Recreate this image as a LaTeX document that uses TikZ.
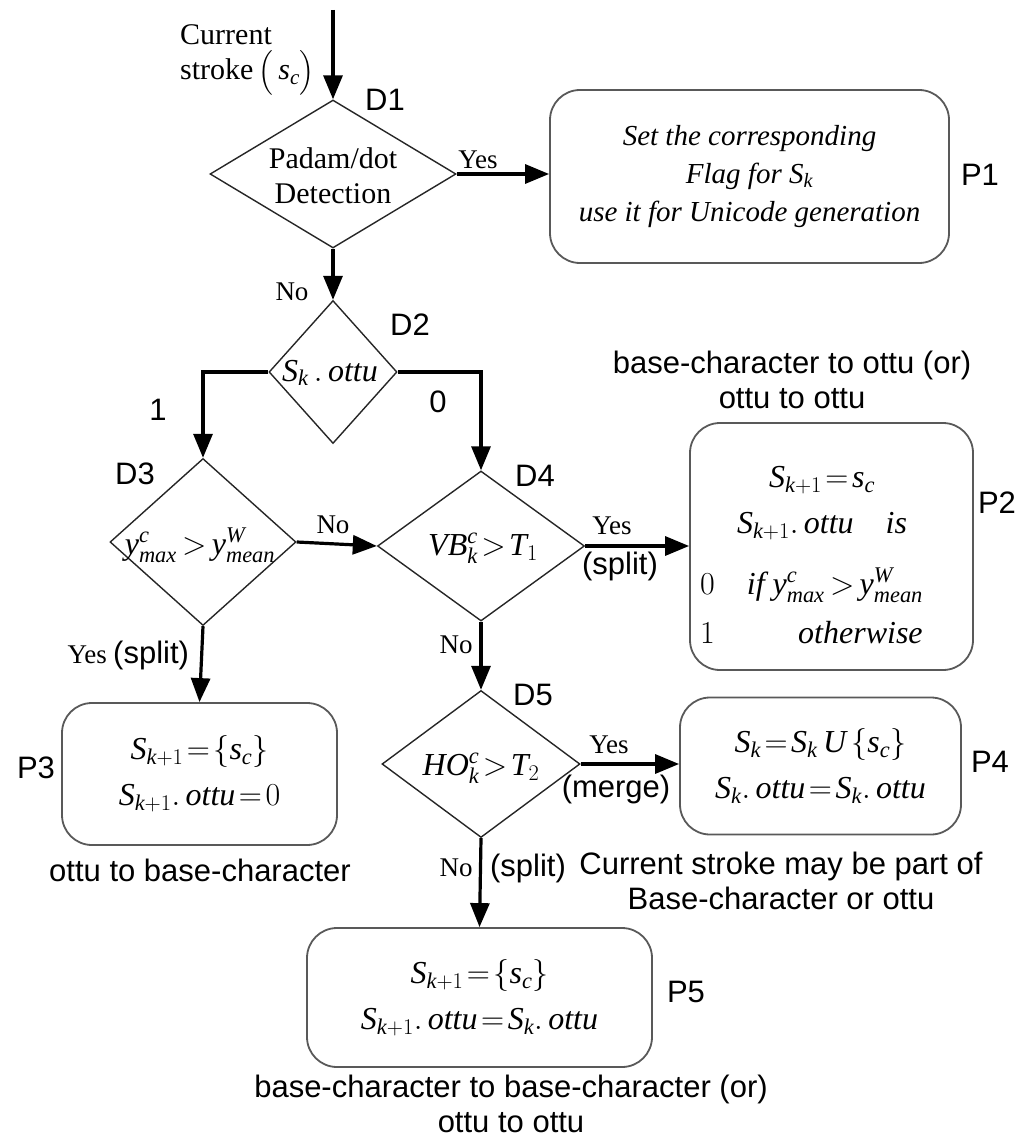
\RequirePackage{fix-cm}
\documentclass[tikz,border=0pt]{standalone}
\usepackage{amsmath}
\usepackage{fontspec}
\setmainfont{Liberation Serif}
\setsansfont{Liberation Sans}
\usetikzlibrary{shapes.geometric,arrows.meta}
\newcommand\fsans{\fontsize{31}{35}\selectfont\sffamily}
\newcommand\fserif{\fontsize{30}{35}\selectfont\rmfamily}
\newcommand\fyes{\fontsize{27}{30}\selectfont\rmfamily}
\newcommand\fmath{\fontsize{32}{46}\selectfont}
\newcommand\mi[1]{\textit{#1}}
\begin{document}
\begin{tikzpicture}[x=1pt,y=-1pt,
  dia/.style={draw=black!85, line width=1.4pt, shape=diamond, inner sep=0pt},
  box/.style={draw=black!65, line width=1.8pt, rounded corners=30pt, inner sep=0pt, align=center, font=\fmath},
  arr/.style={line width=3.2pt, -{Triangle[length=24pt,width=19pt]}},
  sl/.style={font=\fsans, inner sep=0pt},
  rl/.style={font=\fserif, inner sep=0pt},
  yl/.style={font=\fyes, inner sep=0pt},
  ml/.style={font=\fmath, inner sep=0pt},
]
\useasboundingbox (0,0) rectangle (1021,1142);

% decision nodes
\node[dia, minimum width=246pt, minimum height=148pt] (d1) at (333,174) {};
\node[dia, minimum width=128pt, minimum height=143pt] (d2) at (333,372) {};
\node[dia, minimum width=186pt, minimum height=167pt] (d3) at (203,542) {};
\node[dia, minimum width=207pt, minimum height=150pt] (d4) at (481,546) {};
\node[dia, minimum width=198pt, minimum height=147pt] (d5) at (481,764) {};

% texts inside diamonds
\node[rl, align=center] (d1t) at (333,176) {Padam/dot\\Detection};
\node[ml] (d2t) at (330,373) {$\mi{S}_{\mi{k}}\,.\,\mi{ottu}$};
\node[ml] (d3t) at (200,545) {$\mi{y}^{\mi{c}}_{\mi{max}}\,{>}\,\mi{y}^{\mi{W}}_{\mi{mean}}$};
\node[ml] (d4t) at (483,548) {$\mi{VB}^{\mi{c}}_{\mi{k}}\!>\!\mi{T}_{1}$};
\node[ml] (d5t) at (481,768) {$\mi{HO}^{\mi{c}}_{\mi{k}}\!>\!\mi{T}_{2}$};

% process boxes
\node[box, minimum width=399pt, minimum height=173pt, font=\fontsize{29}{38}\selectfont\itshape] (p1) at (749.5,176.5)
  {Set the corresponding\\Flag for $\mi{S}_{\mi{k}}$\\use it for Unicode generation};
\node[box, minimum width=283pt, minimum height=247pt] (p2) at (831.5,546.5) {};
\node[box, minimum width=275pt, minimum height=142pt] (p3) at (199.5,774)
  {$\mi{S}_{\mi{k}+1}\!=\!\{\mi{s}_{\mi{c}}\}$\\$\mi{S}_{\mi{k}+1}.\,\mi{ottu}\!=\!0$};
\node[box, minimum width=281pt, minimum height=137pt] (p4) at (820.5,766)
  {$\mi{S}_{\mi{k}}\!=\!\mi{S}_{\mi{k}}\,\mi{U}\,\{\mi{s}_{\mi{c}}\}$\\$\mi{S}_{\mi{k}}.\,\mi{ottu}\!=\!\mi{S}_{\mi{k}}.\,\mi{ottu}$};
\node[box, minimum width=345pt, minimum height=139pt] (p5) at (479.5,997.5)
  {$\mi{S}_{\mi{k}+1}\!=\!\{\mi{s}_{\mi{c}}\}$\\$\mi{S}_{\mi{k}+1}.\,\mi{ottu}\!=\!\mi{S}_{\mi{k}}.\,\mi{ottu}$};

% P2 contents
\node[ml] (p2a) at (822,480) {$\mi{S}_{\mi{k}+1}\!=\!\mi{s}_{\mi{c}}$};
\node[ml] (p2b) at (822,526) {$\mi{S}_{\mi{k}+1}.\,\mi{ottu}\quad\mi{is}$};
\node[ml, anchor=west] (p2c) at (700,585) {$0\quad\mi{if}\ \mi{y}^{\mi{c}}_{\mi{max}}\,{>}\,\mi{y}^{\mi{W}}_{\mi{mean}}$};
\node[ml, anchor=west] (p2d) at (700,633) {$1$};
\node[ml, anchor=west] (p2e) at (798,633) {$\mi{otherwise}$};

% node names
\node[sl] (ld1) at (385,100) {D1};
\node[sl] (ld2) at (410,325) {D2};
\node[sl] (ld3) at (135,474) {D3};
\node[sl] (ld4) at (535,476) {D4};
\node[sl] (ld5) at (533,695) {D5};
\node[sl] (lp1) at (980,175) {P1};
\node[sl] (lp2) at (997,503) {P2};
\node[sl] (lp3) at (36,768) {P3};
\node[sl] (lp4) at (990,762) {P4};
\node[sl] (lp5) at (686,992) {P5};

% incoming
\coordinate (start) at (333,10);
\node[rl, align=left, anchor=west] (cs) at (180,60) {Current\\stroke\,$\bigl(\,\mi{s}_{\mi{c}}\bigr)$};

% connectors
\draw[arr] (start) -- (d1.north);
\draw[arr] (d1.east) -- (d1.east -| p1.west);
\draw[arr] (d1.south) -- (d2.north);
\draw[arr] (d2.west) -| (d3.north);
\draw[arr] (d2.east) -| (d4.north);
\draw[arr] (d3.east) -- (d4.west);
\draw[arr] (d4.east) -- (d4.east -| p2.west);
\draw[arr] (d3.south) -- (p3.north);
\draw[arr] (d4.south) -- (d5.north);
\draw[arr] (d5.east) -- (d5.east -| p4.west);
\draw[arr] (d5.south) -- (p5.north);

% connector labels
\node[yl] (y1) at (478,160) {Yes};
\node[yl] (n1) at (292,292) {No};
\node[sl] (one) at (158,410) {1};
\node[sl] (zero) at (438,402) {0};
\node[yl] (n3) at (333,525) {No};
\node[yl] (y4) at (612,526) {Yes};
\node[sl] (s4) at (620,566) {(split)};
\node[yl] (n4) at (456,645) {No};
\node[yl, anchor=east] (y3) at (107,655) {Yes};
\node[sl, anchor=west] (s3) at (113,655) {(split)};
\node[yl] (y5) at (609,745) {Yes};
\node[sl] (m5) at (616,789) {(merge)};
\node[yl] (n5) at (456,868) {No};
\node[sl] (s5) at (528,868) {(split)};

% captions
\node[sl, align=center] (c2) at (792,380) {base-character to ottu (or)\\ottu to ottu};
\node[sl] (c3) at (200,870) {ottu to base-character};
\node[sl, align=center] (c4) at (781,881) {Current stroke may be part of\\Base-character or ottu};
\node[sl, align=center] (c5) at (511,1104) {base-character to base-character (or)\\ottu to ottu};
\end{tikzpicture}
\end{document}
